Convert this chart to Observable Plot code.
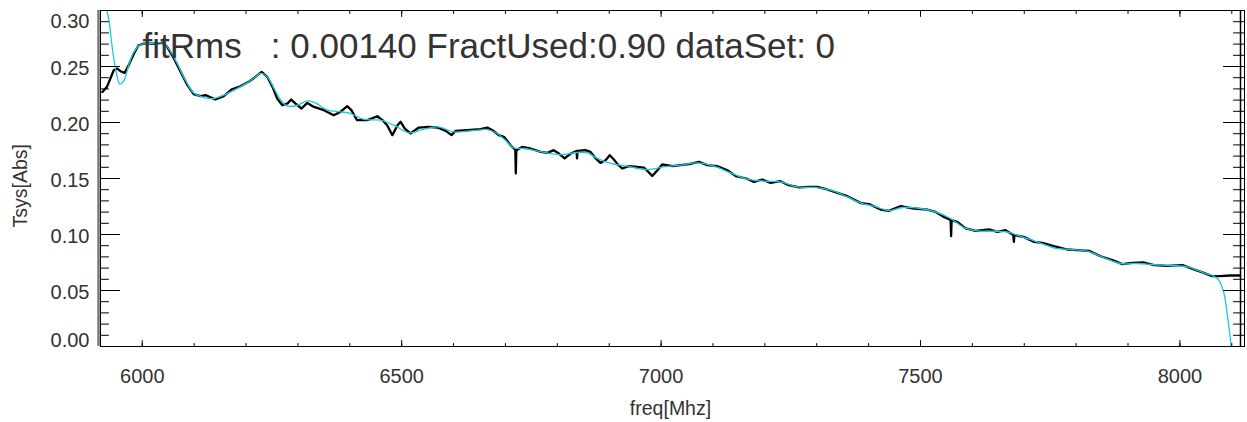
<!DOCTYPE html>
<html>
<head>
<meta charset="utf-8">
<script src="https://cdn.jsdelivr.net/npm/d3@7"></script>
<script src="https://cdn.jsdelivr.net/npm/@observablehq/plot@0.6"></script>
<style>
  html, body { margin: 0; padding: 0; background: #fff; }
</style>
</head>
<body>
<div id="chart"></div>
<script>
// ---- data ----
const dataFreq = [5923,5932,5945,5952,5958,5966,5974,5984,5993,6003,6022,6039,6048,6061,6074,6087,6099,6112,6122,6141,6157,6173,6189,6205,6218,6230,6241,6251,6260,6270,6280,6287,6295,6307,6318,6331,6350,6369,6382,6395,6403,6414,6434,6453,6463,6472,6482,6492,6498,6506,6517,6533,6552,6569,6585,6596,6604,6626,6652,6665,6675,6687,6697,6710,6719,6720,6721,6732,6748,6768,6781,6793,6803,6814,6826,6837,6838,6839,6854,6864,6874,6883,6893,6901,6909,6916,6925,6938,6954,6967,6983,6993,7002,7022,7038,7054,7073,7089,7108,7128,7144,7164,7179,7195,7211,7230,7246,7266,7285,7301,7320,7340,7359,7385,7401,7423,7439,7462,7487,7513,7529,7545,7558,7559,7560,7571,7587,7606,7632,7648,7664,7679,7680,7681,7699,7719,7735,7757,7783,7802,7825,7847,7870,7889,7908,7931,7950,7976,8005,8027,8046,8062,8078,8097,8116];
const dataTsys = [0.2273,0.2318,0.2467,0.2482,0.2458,0.2443,0.2512,0.2616,0.2690,0.2705,0.2705,0.2711,0.2675,0.2571,0.2452,0.2333,0.2253,0.2235,0.2244,0.2205,0.2235,0.2297,0.2324,0.2363,0.2407,0.2452,0.2407,0.2318,0.2214,0.2154,0.2170,0.2205,0.2170,0.2125,0.2175,0.2139,0.2110,0.2065,0.2095,0.2146,0.2110,0.2021,0.2021,0.2056,0.2021,0.1976,0.1887,0.1976,0.2006,0.1946,0.1902,0.1955,0.1961,0.1955,0.1925,0.1887,0.1925,0.1931,0.1940,0.1955,0.1931,0.1887,0.1872,0.1797,0.1755,0.1545,0.1753,0.1782,0.1768,0.1738,0.1729,0.1753,0.1723,0.1679,0.1723,0.1746,0.1680,0.1746,0.1753,0.1738,0.1679,0.1639,0.1663,0.1708,0.1670,0.1628,0.1589,0.1610,0.1604,0.1598,0.1523,0.1574,0.1625,0.1610,0.1619,0.1628,0.1648,0.1619,0.1610,0.1574,0.1521,0.1500,0.1470,0.1491,0.1461,0.1476,0.1440,0.1420,0.1425,0.1425,0.1402,0.1371,0.1342,0.1280,0.1271,0.1223,0.1211,0.1253,0.1232,0.1223,0.1202,0.1157,0.1130,0.0985,0.1128,0.1113,0.1054,0.1032,0.1045,0.1023,0.1038,0.0996,0.0934,0.0994,0.0979,0.0934,0.0925,0.0896,0.0866,0.0860,0.0854,0.0806,0.0771,0.0735,0.0746,0.0750,0.0726,0.0720,0.0726,0.0688,0.0657,0.0628,0.0628,0.0634,0.0634];

const fitFreq = [5920,5925,5930,5932,5936,5942,5949,5957,5965,5974,5984,5997,6016,6035,6048,6064,6083,6099,6119,6138,6157,6177,6202,6218,6228,6241,6254,6267,6280,6299,6318,6334,6357,6382,6402,6427,6459,6485,6514,6536,6569,6601,6626,6652,6665,6684,6700,6716,6735,6761,6787,6813,6838,6858,6877,6903,6935,6973,7005,7038,7070,7102,7134,7166,7198,7230,7262,7295,7327,7359,7385,7410,7439,7465,7500,7529,7558,7584,7610,7642,7667,7692,7725,7757,7789,7821,7853,7885,7918,7950,7982,8015,8046,8065,8075,8085,8091,8096,8099,8102];
const fitTsys = [0.420,0.360,0.318,0.300,0.291,0.2675,0.2467,0.2342,0.2378,0.2512,0.2630,0.2696,0.2705,0.2711,0.2675,0.2556,0.2378,0.2265,0.2223,0.2214,0.2244,0.2289,0.2354,0.2407,0.2438,0.2407,0.2304,0.2199,0.2146,0.2154,0.2193,0.2175,0.2110,0.2095,0.2080,0.2027,0.2021,0.1976,0.1907,0.1931,0.1961,0.1916,0.1922,0.1935,0.1937,0.1902,0.1842,0.1774,0.1768,0.1746,0.1723,0.1714,0.1732,0.1729,0.1679,0.1634,0.1610,0.1580,0.1604,0.1619,0.1639,0.1610,0.1550,0.1494,0.1476,0.1470,0.1425,0.1420,0.1396,0.1336,0.1280,0.1253,0.1214,0.1241,0.1232,0.1202,0.1143,0.1062,0.1032,0.1029,0.1023,0.0985,0.0934,0.0881,0.0866,0.0851,0.0795,0.0741,0.0741,0.0730,0.0723,0.0711,0.0657,0.0628,0.0592,0.0473,0.0295,0.0116,0.0000,-0.0150];

const xDomain = [5919.5, 8124.5];
const yDomain = [0, 0.30];
const xMajorTicks = [6000, 6500, 7000, 7500, 8000];
const xTickLabels = ["6000", "6500", "7000", "7500", "8000"];
const xMinorTicks = [6000,6100,6200,6300,6400,6500,6600,6700,6800,6900,7000,7100,7200,7300,7400,7500,7600,7700,7800,7900,8000,8100];
const yMajorTicks = [0, 0.05, 0.10, 0.15, 0.20, 0.25, 0.30];
const yTickLabels = ["0.00", "0.05", "0.10", "0.15", "0.20", "0.25", "0.30"];
const yMinorTicks = [0,0.01,0.02,0.03,0.04,0.05,0.06,0.07,0.08,0.09,0.10,0.11,0.12,0.13,0.14,0.15,0.16,0.17,0.18,0.19,0.20,0.21,0.22,0.23,0.24,0.25,0.26,0.27,0.28,0.29,0.30];
const xLabel = "freq[Mhz]";
const yLabel = "Tsys[Abs]";
const annotation = "fitRms   : 0.00140 FractUsed:0.90 dataSet: 0";

// ---- build ----
const dataRows = dataFreq.map((f, i) => ({f, v: dataTsys[i]}));
const fitRows = fitFreq.map((f, i) => ({f, v: fitTsys[i]}));

const tickShape = {draw(ctx, l) { ctx.moveTo(0, 0); ctx.lineTo(0, -l); }};
const font = "'Liberation Sans', Helvetica, Arial, sans-serif";
const labelColor = "#333";

function ticks(data, key, anchor, length, rotate) {
  return Plot.vector(data, {
    [key]: d => d, frameAnchor: anchor, length, rotate,
    shape: tickShape, anchor: "start", stroke: "black", strokeWidth: 1
  });
}

const chart = Plot.plot({
  width: 1247,
  height: 422,
  marginLeft: 100,
  marginRight: 3,
  marginTop: 10,
  marginBottom: 76,
  style: {fontFamily: font, background: "white", overflow: "visible"},
  x: {domain: xDomain, axis: null},
  y: {domain: yDomain, axis: null},
  marks: [
    Plot.line(dataRows, {x: "f", y: "v", stroke: "black", strokeWidth: 2.3, strokeLinejoin: "round", clip: true}),
    Plot.line(fitRows, {x: "f", y: "v", stroke: "#16cce4", strokeWidth: 1.3, curve: "catmull-rom", clip: true}),
    // frame
    Plot.frame({stroke: "black", strokeWidth: 1}),
    Plot.ruleX([xDomain[0]], {dx: -2, stroke: "#777", strokeWidth: 2.5}),
    Plot.ruleX([xDomain[1]], {dx: -4, stroke: "black", strokeWidth: 1.5}),
    // ticks (inward, IDL style)
    ticks(xMinorTicks, "x", "bottom", 3, 0),
    ticks(xMajorTicks, "x", "bottom", 6, 0),
    ticks(xMinorTicks, "x", "top", 3, 180),
    ticks(xMajorTicks, "x", "top", 6, 180),
    ticks(yMinorTicks, "y", "left", 8, 90),
    ticks(yMajorTicks, "y", "left", 19, 90),
    ticks(yMinorTicks, "y", "right", 11, -90),
    ticks(yMajorTicks, "y", "right", 21, -90),
    // tick labels
    Plot.text(xMajorTicks, {x: d => d, frameAnchor: "bottom", dy: 30, text: (d, i) => xTickLabels[i],
      fontSize: 20, fill: labelColor, lineAnchor: "middle"}),
    Plot.text(yMajorTicks.slice(1, 6), {y: d => d, frameAnchor: "left", dx: -11, dy: 2,
      text: (d, i) => yTickLabels[i + 1], textAnchor: "end", fontSize: 20, fill: labelColor, lineAnchor: "middle"}),
    Plot.text([yMajorTicks[0]], {y: d => d, frameAnchor: "left", dx: -11, dy: -6,
      text: () => yTickLabels[0], textAnchor: "end", fontSize: 20, fill: labelColor, lineAnchor: "middle"}),
    Plot.text([yMajorTicks[6]], {y: d => d, frameAnchor: "left", dx: -11, dy: 11,
      text: () => yTickLabels[6], textAnchor: "end", fontSize: 20, fill: labelColor, lineAnchor: "middle"}),
    // axis titles
    Plot.text([xLabel], {frameAnchor: "bottom", dx: -2, dy: 62, text: d => d, fontSize: 19.5, fill: labelColor, lineAnchor: "middle"}),
    Plot.text([yLabel], {frameAnchor: "left", dx: -80, dy: 49, rotate: -90, text: d => d, fontSize: 19.5, fill: labelColor, lineAnchor: "middle"}),
    // annotation
    Plot.text([annotation], {frameAnchor: "top-left", dx: 42, dy: 23, text: d => d, fontSize: 35,
      fill: "#333", textAnchor: "start", lineAnchor: "top"})
  ]
});
// preserve multiple spaces in annotation
chart.querySelectorAll("text").forEach(t => { t.setAttribute("xml:space", "preserve"); t.style.whiteSpace = "pre"; });
document.getElementById("chart").appendChild(chart);
</script>
</body>
</html>
